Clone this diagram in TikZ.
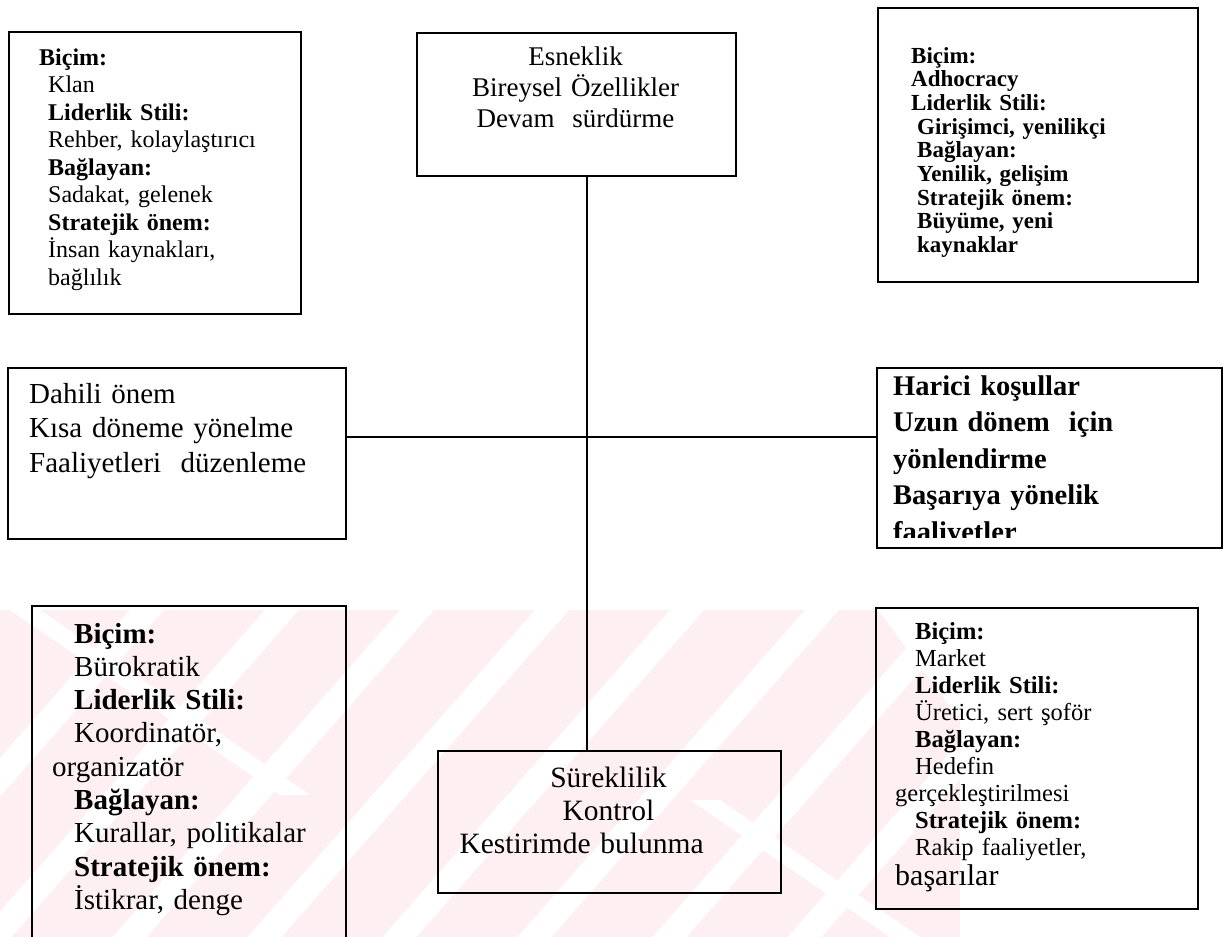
\documentclass[tikz,border=0pt]{standalone}
\usepackage{fontspec}
\setmainfont{Liberation Serif}
\definecolor{wmpink}{RGB}{254,240,242}
\newcommand{\boxfont}[2]{\fontsize{#1}{#2}\selectfont\lineskiplimit=-30pt\relax}
\tikzset{
    box/.style={draw, line width=1.6pt, inner sep=0pt}, % frame of a field
    txt/.style={inner sep=0pt, align=left, text width=#1, anchor=base west}, % left set text
    ctxt/.style={inner sep=0pt, align=center, text width=#1, anchor=base}, % centred text
    link/.style={line width=1.5pt}, % the two axes
}

\begin{document}
\begin{tikzpicture}[x=1pt, y=-1pt]
    \useasboundingbox (0,0) rectangle (1229,937);
    \clip (0,0) rectangle (1229,937);

    % watermark
    \begin{scope}
        \clip (0,610) -- (878,610) -- (960,720) -- (960,937) -- (0,937) -- cycle;
        \fill[wmpink] (0,610) rectangle (960,937);
        \foreach \s in {130,265,400,535,670,805,940,1075}
            \fill[white] (\s,610) -- ++(34,0) -- ++(-290,330) -- ++(-34,0) -- cycle;
        \foreach \s/\t in {10/610,690/800}
            \fill[white] (\s,\t) -- ++(30,0) -- ++(270,185) -- ++(-30,0) -- cycle;
    \end{scope}

    % fields
    \node[box, minimum width=292pt, minimum height=282pt, anchor=north west] (klan) at (8,31) {};
    \node[box, minimum width=319pt, minimum height=143pt, anchor=north west] (esnek) at (416,32) {};
    \node[box, minimum width=320pt, minimum height=274pt, anchor=north west] (adhoc) at (877,7) {};
    \node[box, minimum width=338pt, minimum height=171pt, anchor=north west] (dahili) at (7,367) {};
    \node[box, minimum width=345pt, minimum height=180pt, anchor=north west] (harici) at (876,367) {};
    \node[box, minimum width=314pt, minimum height=360pt, anchor=north west] (buro) at (31,605) {};
    \node[box, minimum width=343pt, minimum height=142pt, anchor=north west] (surek) at (437,750) {};
    \node[box, minimum width=322pt, minimum height=301pt, anchor=north west] (market) at (875,607) {};

    % texts
    \node[txt=240pt, font=\boxfont{24}{27.5}] (klanT) at (48,65)
        {\hspace*{-9pt}\textbf{Biçim:}\\ Klan\\ \textbf{Liderlik Stili:}\\ Rehber, kolaylaştırıcı\\
         \textbf{Bağlayan:}\\ Sadakat, gelenek\\ \textbf{Stratejik önem:}\\ İnsan kaynakları,\\ bağlılık};
    \node[ctxt=319pt, font=\boxfont{27}{31}] (esnekT) at (575.5,65)
        {Esneklik\\ Bireysel Özellikler\\ Devam~ sürdürme};
    \node[txt=270pt, font=\boxfont{23}{23.7}\bfseries] (adhocT) at (917,63)
        {\hspace*{-6pt}Biçim:\\ \hspace*{-6pt}Adhocracy\\ \hspace*{-6pt}Liderlik Stili:\\ Girişimci, yenilikçi\\
         Bağlayan:\\ Yenilik, gelişim\\ Stratejik önem:\\ Büyüme, yeni\\ kaynaklar};
    \node[txt=300pt, font=\boxfont{29}{34.5}] (dahiliT) at (29,403)
        {Dahili önem\\ Kısa döneme yönelme\\ Faaliyetleri~ düzenleme};
    \begin{scope}
        \clip (harici.north west) rectangle (1221,537);
        \node[txt=310pt, font=\boxfont{28.5}{36.6}\bfseries] (hariciT) at (893,395)
            {Harici koşullar\\ Uzun dönem~ için\\ yönlendirme\\ Başarıya yönelik\\ faaliyetler};
    \end{scope}
    \node[txt=265pt, font=\boxfont{29}{33.3}] (buroT) at (74,643)
        {\textbf{Biçim:}\\ Bürokratik\\ \textbf{Liderlik Stili:}\\ Koordinatör,\\ \hspace*{-22pt}organizatör\\
         \textbf{Bağlayan:}\\ Kurallar, politikalar\\ \textbf{Stratejik önem:}\\ İstikrar, denge};
    \node[ctxt=343pt, font=\boxfont{29.5}{33}] (surekT) at (608.5,787)
        {Süreklilik\\ Kontrol\\ \makebox[298pt][l]{Kestirimde bulunma}};
    \node[txt=270pt, font=\boxfont{24.5}{27}] (marketT) at (915,639)
        {\textbf{Biçim:}\\ Market\\ \textbf{Liderlik Stili:}\\ Üretici, sert şoför\\ \textbf{Bağlayan:}\\ Hedefin\\
         \hspace*{-20pt}gerçekleştirilmesi\\ \textbf{Stratejik önem:}\\ Rakip faaliyetler,\\[3pt]
         \hspace*{-20pt}{\fontsize{30}{33}\selectfont başarılar}};

    % axes
    \coordinate (vaxis) at (587,0);
    \coordinate (haxis) at (0,437);
    \draw[link] (esnek.south -| vaxis) -- (surek.north -| vaxis);
    \draw[link] (dahili.east |- haxis) -- (harici.west |- haxis);
\end{tikzpicture}
\end{document}
